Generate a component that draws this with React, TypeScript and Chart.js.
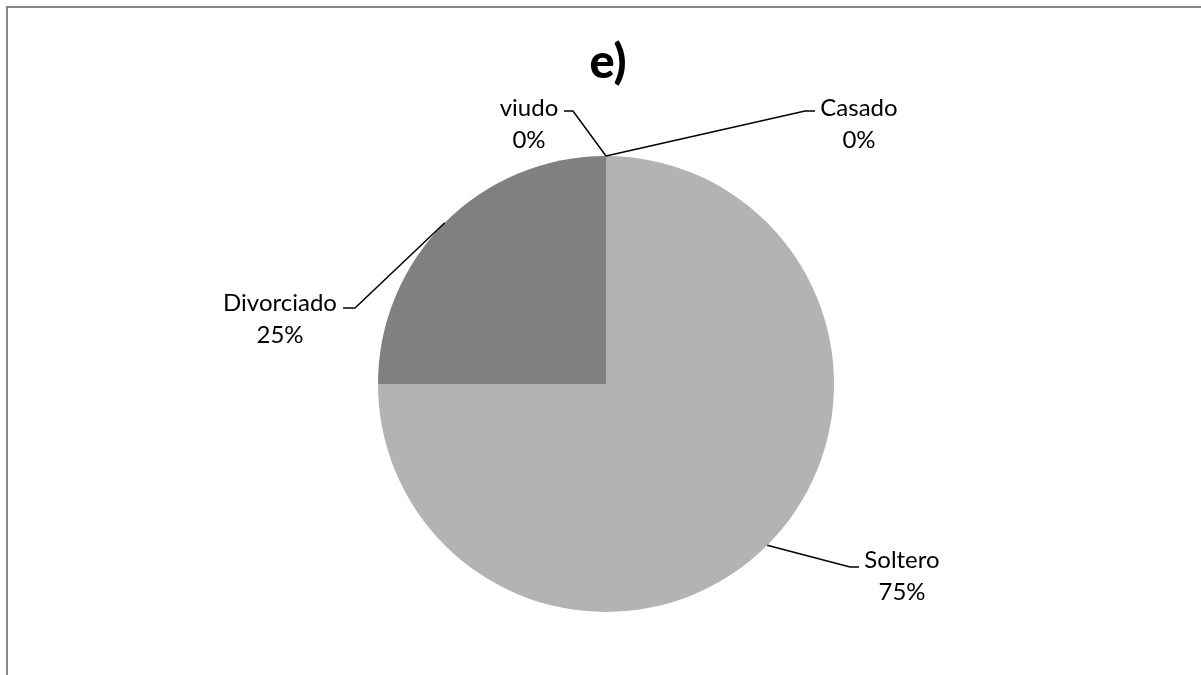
import React, { useEffect, useRef } from "react";
import { Chart, registerables } from "chart.js";

Chart.register(...registerables);

// Marital status shares (percent)
const categories = ["Casado", "Soltero", "Divorciado", "viudo"];
const shares = [0, 75, 25, 0];
const sliceColors = ["#a6a6a6", "#b3b3b3", "#808080", "#595959"];
const chartTitle = "e)";

// Where each callout's text block and leader elbow sit (canvas pixels)
const calloutLayout: Record<string, { textX: number; textY: number; elbowX: number; tailX: number; lineY: number }> = {
  Casado: { textX: 859, textY: 108, elbowX: 805, tailX: 815, lineY: 111 },
  Soltero: { textX: 902, textY: 560, elbowX: 850, tailX: 859, lineY: 567 },
  Divorciado: { textX: 280, textY: 303, elbowX: 355, tailX: 343, lineY: 308 },
  viudo: { textX: 529, textY: 108, elbowX: 573, tailX: 564, lineY: 111 },
};

const LABEL_FONT = "24px Lato, 'Open Sans', sans-serif";
const TITLE_FONT = "900 47px Lato, 'Open Sans', sans-serif";

const calloutPlugin = {
  id: "callouts",
  afterDatasetsDraw(chart: any) {
    const ctx: CanvasRenderingContext2D = chart.ctx;
    const meta = chart.getDatasetMeta(0);
    const data: number[] = chart.data.datasets[0].data;
    const total = data.reduce((a, b) => a + b, 0);
    ctx.save();

    // title
    ctx.fillStyle = "#000";
    ctx.font = TITLE_FONT;
    ctx.textAlign = "center";
    ctx.textBaseline = "middle";
    ctx.fillText(chartTitle, 608, 63);

    meta.data.forEach((arc: any, i: number) => {
      const name = chart.data.labels[i] as string;
      const lay = calloutLayout[name];
      if (!lay) return;
      const { x, y, startAngle, endAngle, outerRadius } = arc.getProps(
        ["x", "y", "startAngle", "endAngle", "outerRadius"],
        true
      );
      const mid = (startAngle + endAngle) / 2;
      const ax = x + Math.cos(mid) * outerRadius;
      const ay = y + Math.sin(mid) * outerRadius;

      ctx.strokeStyle = "#000";
      ctx.lineWidth = 1.5;
      ctx.beginPath();
      ctx.moveTo(ax, ay);
      ctx.lineTo(lay.elbowX, lay.lineY);
      ctx.lineTo(lay.tailX, lay.lineY);
      ctx.stroke();

      const pct = Math.round((data[i] / total) * 100) + "%";
      ctx.fillStyle = "#000";
      ctx.font = LABEL_FONT;
      ctx.textAlign = "center";
      ctx.textBaseline = "middle";
      ctx.fillText(name, lay.textX, lay.textY);
      ctx.fillText(pct, lay.textX, lay.textY + 32);
    });
    ctx.restore();
  },
};

export default function App() {
  const canvasRef = useRef<HTMLCanvasElement | null>(null);

  useEffect(() => {
    if (!canvasRef.current) return;
    const chart = new Chart(canvasRef.current, {
      type: "pie",
      data: {
        labels: categories,
        datasets: [
          {
            data: shares,
            backgroundColor: sliceColors,
            borderWidth: 0,
            hoverOffset: 0,
            offset: 0,
          },
        ],
      },
      options: {
        responsive: false,
        animation: false,
        events: [],
        layout: { padding: { top: 156, bottom: 63, left: 378, right: 367 } },
        plugins: {
          legend: { display: false },
          tooltip: { enabled: false },
          title: { display: false },
        },
      },
      plugins: [calloutPlugin],
    });
    return () => chart.destroy();
  }, []);

  return (
    <div style={{ position: "fixed", left: 0, top: 0, width: 1201, height: 675, background: "#fff", overflow: "hidden" }}>
      <canvas ref={canvasRef} width={1201} height={675} style={{ position: "absolute", left: 0, top: 0 }} />
      <div
        style={{
          position: "absolute",
          left: 6,
          top: 6,
          width: 1400,
          height: 900,
          border: "2px solid #868686",
          pointerEvents: "none",
        }}
      />
    </div>
  );
}
